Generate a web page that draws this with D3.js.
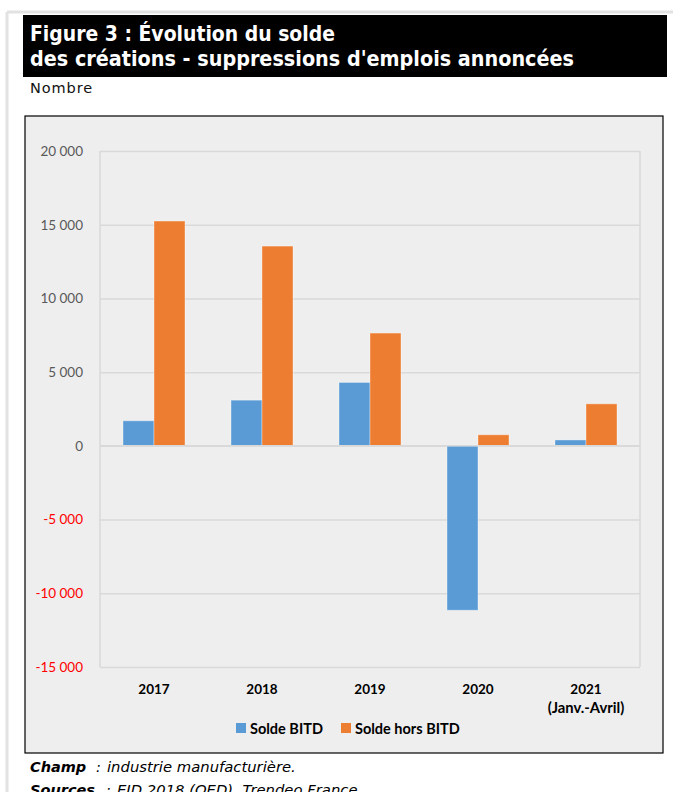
<!DOCTYPE html>
<html>
<head>
<meta charset="utf-8">
<style>
    body { margin: 0; background: #fff; }
    svg { position: absolute; left: 0; top: 0; }
</style>
</head>
<body>
<script src="https://cdn.jsdelivr.net/npm/d3@7"></script>
<script>
    // data
    var years = ["2017", "2018", "2019", "2020", "2021"];
    var yearNotes = ["", "", "", "", "(Janv.-Avril)"];
    var soldeBITD = [1700, 3100, 4300, -11150, 400];
    var soldeHorsBITD = [15250, 13550, 7650, 750, 2850];
    var seriesNames = ["Solde BITD", "Solde hors BITD"];
    var seriesColors = ["#5b9bd5", "#ed7d31"];
    var yTicks = [20000, 15000, 10000, 5000, 0, -5000, -10000, -15000];

    var width = 673, height = 792;
    var svg = d3.select("body").append("svg")
        .attr("width", width)
        .attr("height", height);

    // outer light frame
    svg.append("line").attr("x1", 7).attr("x2", width).attr("y1", 12).attr("y2", 12)
        .attr("stroke", "#e2e2e2").attr("stroke-width", 3);
    svg.append("line").attr("x1", 7).attr("x2", 7).attr("y1", 12).attr("y2", height)
        .attr("stroke", "#e2e2e2").attr("stroke-width", 3);

    // title block
    svg.append("rect").attr("x", 23).attr("y", 15).attr("width", 644).attr("height", 62).attr("fill", "#000");
    var title = svg.append("text")
        .attr("fill", "#fff")
        .attr("font-family", "DejaVu Sans")
        .attr("font-weight", "bold")
        .attr("font-size", 20.5);
    title.append("tspan").attr("x", 30).attr("y", 41)
        .attr("textLength", 305).attr("lengthAdjust", "spacingAndGlyphs")
        .text("Figure 3 : Évolution du solde");
    title.append("tspan").attr("x", 30).attr("y", 66)
        .attr("textLength", 544).attr("lengthAdjust", "spacingAndGlyphs")
        .text("des créations - suppressions d'emplois annoncées");

    svg.append("text").attr("x", 30).attr("y", 93)
        .attr("font-family", "DejaVu Sans").attr("font-size", 14.5).attr("fill", "#111")
        .attr("letter-spacing", 0.9)
        .text("Nombre");

    // chart box
    svg.append("rect").attr("x", 25).attr("y", 116).attr("width", 638).attr("height", 637)
        .attr("fill", "#eeeeee").attr("stroke", "#000").attr("stroke-width", 1.2);

    var plot = { left: 100, right: 640, top: 151, bottom: 667 };

    var x = d3.scaleBand()
        .domain(years)
        .range([plot.left, plot.right])
        .paddingInner(0.426)
        .paddingOuter(0.213);
    var xs = d3.scaleBand()
        .domain(seriesNames)
        .range([0, x.bandwidth()]);
    var y = d3.scaleLinear()
        .domain([-15000, 20000])
        .range([plot.bottom, plot.top]);

    var fmt = function (v) {
        return d3.format(",")(v).replace(/,/g, " ").replace("−", "-");
    };

    // grid
    var yAxis = d3.axisLeft(y)
        .tickValues(yTicks)
        .tickSize(-(plot.right - plot.left))
        .tickPadding(17)
        .tickFormat(fmt);
    var gy = svg.append("g")
        .attr("class", "grid")
        .attr("transform", "translate(" + plot.left + ",0)")
        .call(yAxis);
    gy.select(".domain").remove();
    gy.selectAll(".tick line").attr("stroke", "#d9d9d9").attr("stroke-width", 1.5);
    gy.selectAll(".tick text")
        .attr("font-family", "Lato")
        .attr("font-size", 13.5)
        .attr("fill", function (d) { return d < 0 ? "#ff0000" : "#595959"; });

    // plot frame (left and right borders)
    svg.append("line").attr("x1", plot.left).attr("x2", plot.left).attr("y1", plot.top).attr("y2", plot.bottom)
        .attr("stroke", "#d9d9d9").attr("stroke-width", 1.5);
    svg.append("line").attr("x1", plot.right).attr("x2", plot.right).attr("y1", plot.top).attr("y2", plot.bottom)
        .attr("stroke", "#d9d9d9").attr("stroke-width", 1.5);

    // bars
    var rows = years.map(function (yr, i) {
        return { year: yr, values: [soldeBITD[i], soldeHorsBITD[i]] };
    });
    var groups = svg.selectAll("g.year")
        .data(rows)
        .enter().append("g")
        .attr("class", "year")
        .attr("transform", function (d) { return "translate(" + x(d.year) + ",0)"; });
    groups.selectAll("rect")
        .data(function (d) { return d.values.map(function (v, j) { return { name: seriesNames[j], value: v, color: seriesColors[j] }; }); })
        .enter().append("rect")
        .attr("x", function (d) { return xs(d.name); })
        .attr("width", xs.bandwidth())
        .attr("y", function (d) { return y(Math.max(0, d.value)); })
        .attr("height", function (d) { return Math.abs(y(d.value) - y(0)); })
        .attr("fill", function (d) { return d.color; })
        .attr("stroke", "rgba(255,255,255,0.35)")
        .attr("stroke-width", 1);

    // zero line on top
    svg.append("line").attr("x1", plot.left).attr("x2", plot.right).attr("y1", y(0)).attr("y2", y(0))
        .attr("stroke", "#d9d9d9").attr("stroke-width", 1.5);

    // category labels
    var cats = svg.append("g")
        .attr("font-family", "Lato")
        .attr("font-weight", "bold")
        .attr("fill", "#000")
        .attr("text-anchor", "middle");
    cats.selectAll("text.yr")
        .data(years)
        .enter().append("text")
        .attr("class", "yr")
        .attr("font-size", 13.5)
        .attr("x", function (d) { return x(d) + x.bandwidth() / 2; })
        .attr("y", 694)
        .text(function (d) { return d; });
    cats.selectAll("text.note")
        .data(yearNotes)
        .enter().append("text")
        .attr("class", "note")
        .attr("font-size", 14.8)
        .attr("x", function (d, i) { return x(years[i]) + x.bandwidth() / 2; })
        .attr("y", 713)
        .text(function (d) { return d; });

    // legend
    var legendX = [236, 341];
    var legend = svg.selectAll("g.legend")
        .data(seriesNames)
        .enter().append("g")
        .attr("class", "legend")
        .attr("transform", function (d, i) { return "translate(" + legendX[i] + ",723)"; });
    legend.append("rect")
        .attr("width", 10).attr("height", 10)
        .attr("fill", function (d, i) { return seriesColors[i]; });
    legend.append("text")
        .attr("x", 14).attr("y", 10.5)
        .attr("font-family", "Lato").attr("font-weight", "bold").attr("font-size", 14.5)
        .attr("fill", "#000")
        .text(function (d) { return d; });

    // footer
    var foot = svg.append("g")
        .attr("font-family", "DejaVu Sans")
        .attr("font-style", "italic")
        .attr("fill", "#000");
    var t1 = foot.append("text").attr("y", 772);
    t1.append("tspan").attr("x", 30).attr("font-weight", "bold").attr("font-size", 14.5).text("Champ");
    t1.append("tspan").attr("x", 96).attr("font-size", 14.5).text(":");
    t1.append("tspan").attr("x", 107).attr("font-size", 14.8).text("industrie manufacturière.");
    var t2 = foot.append("text").attr("y", 795);
    t2.append("tspan").attr("x", 30).attr("font-weight", "bold").attr("font-size", 14.5).text("Sources");
    t2.append("tspan").attr("x", 106).attr("font-size", 14.5).text(":");
    t2.append("tspan").attr("x", 117).attr("font-size", 14.8).text("EID 2018 (OED), Trendeo France.");
</script>
</body>
</html>
